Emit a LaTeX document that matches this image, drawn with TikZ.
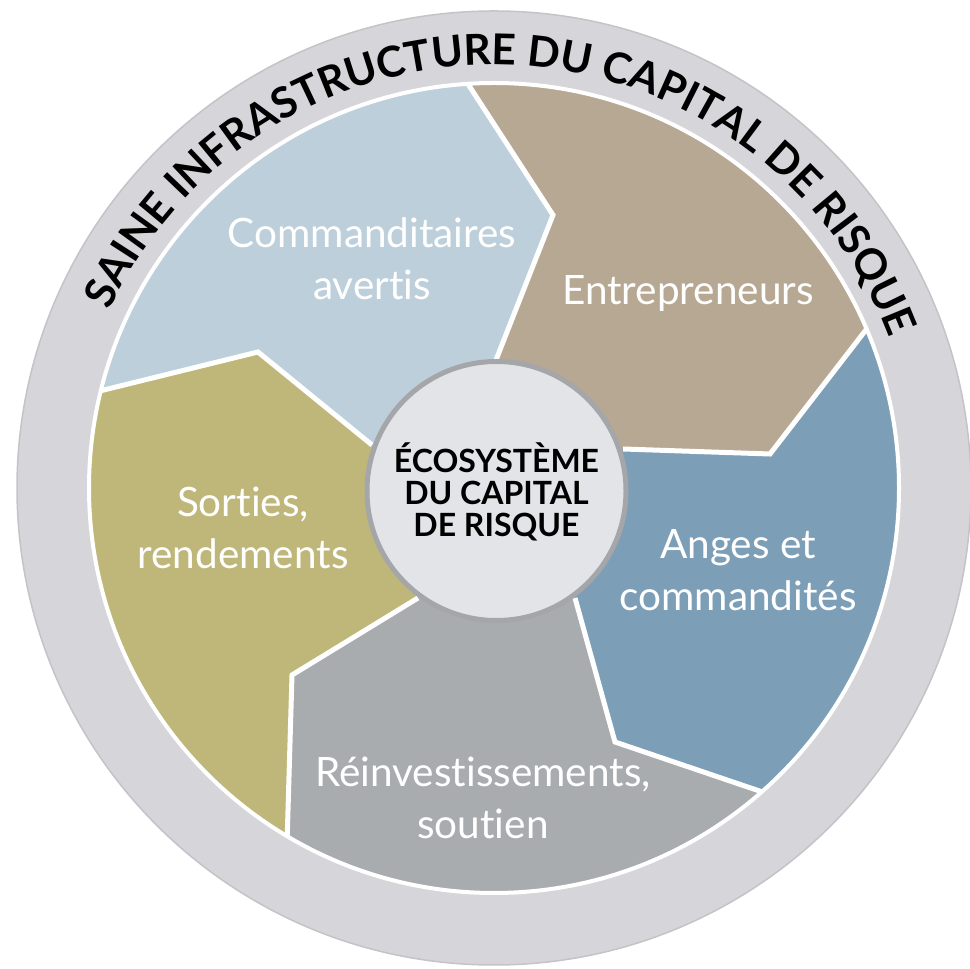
\documentclass[tikz,border=0pt]{standalone}
\usepackage{fontspec}
\setmainfont{Lato}[Ligatures=NoCommon]
\usetikzlibrary{decorations.text,calc}
\definecolor{ringgray}{HTML}{D6D6DA}
\definecolor{ringedge}{HTML}{C4C4C8}
\definecolor{cblue}{HTML}{BDCFDB}
\definecolor{ctan}{HTML}{B6A893}
\definecolor{csteel}{HTML}{7D9EB7}
\definecolor{cgray}{HTML}{A9ACAF}
\definecolor{colive}{HTML}{BFB77A}
\definecolor{cfill}{HTML}{E2E4E7}
\definecolor{cborder}{HTML}{A4A6A9}
\tikzset{
  sep/.style={draw=white, line width=5pt, line join=miter},
  seglabel/.style={text=white, align=center, inner sep=0pt, font=\fontsize{40.5}{52}\selectfont},
  ecolabel/.style={text=black, align=center, inner sep=0pt, font=\bfseries\fontsize{32}{32}\selectfont},
}
\begin{document}
\begin{tikzpicture}[x=1pt,y=1pt]
\useasboundingbox (0,0) rectangle (969,969);
\coordinate (C) at (494,481);
% outer ring
\fill[ringgray, draw=ringedge, line width=1.5pt] (C) circle (477pt);
% boundary points
\coordinate (b1i) at (496,609);
\coordinate (b1k) at (553,754);
\coordinate (b1o) at ($(C)+(93.7:405pt)$);
\coordinate (b2i) at (623,520);
\coordinate (b2k) at (770,515);
\coordinate (b2o) at ($(C)+(23.1:405pt)$);
\coordinate (b3i) at (575,371);
\coordinate (b3k) at (615,227);
\coordinate (b3o) at ($(C)+(-48.6:405pt)$);
\coordinate (b4i) at (418,371);
\coordinate (b4k) at (292,294);
\coordinate (b4o) at ($(C)+(-120.7:405pt)$);
\coordinate (b5i) at (372,524);
\coordinate (b5k) at (258,617);
\coordinate (b5o) at ($(C)+(166.1:405pt)$);
% segments
\fill[cblue] (C) -- (b5i) -- (b5k) -- (b5o) arc[start angle=166.1, end angle=93.7, radius=405pt] -- (b1k) -- (b1i) -- cycle;
\fill[ctan] (C) -- (b1i) -- (b1k) -- (b1o) arc[start angle=93.7, end angle=23.1, radius=405pt] -- (b2k) -- (b2i) -- cycle;
\fill[csteel] (C) -- (b2i) -- (b2k) -- (b2o) arc[start angle=23.1, end angle=-48.6, radius=405pt] -- (b3k) -- (b3i) -- cycle;
\fill[cgray] (C) -- (b3i) -- (b3k) -- (b3o) arc[start angle=-48.6, end angle=-120.7, radius=405pt] -- (b4k) -- (b4i) -- cycle;
\fill[colive] (C) -- (b4i) -- (b4k) -- (b4o) arc[start angle=-120.7, end angle=-193.9, radius=405pt] -- (b5k) -- (b5i) -- cycle;
% separators
\draw[sep] (b1i) -- (b1k) -- (b1o);
\draw[sep] (b2i) -- (b2k) -- (b2o);
\draw[sep] (b3i) -- (b3k) -- (b3o);
\draw[sep] (b4i) -- (b4k) -- (b4o);
\draw[sep] (b5i) -- (b5k) -- (b5o);
\draw[white, line width=4pt] (C) circle (405pt);
% centre
\node[circle, fill=cfill, draw=cborder, line width=5pt, minimum size=259pt, inner sep=0pt] (eco) at (496.5,478) {};
\node[ecolabel, anchor=base] (ecotext) at (496.5,432) {ÉCOSYSTÈME\\DU CAPITAL\\DE RISQUE};
% labels (anchor = baseline of last line)
\node[seglabel, anchor=base] (l1) at (372,669) {Commanditaires\\avertis};
\node[seglabel, anchor=base] (l2) at (688,664) {Entrepreneurs};
\node[seglabel, anchor=base] (l3) at (738,358) {Anges et\\commandités};
\node[seglabel, anchor=base] (l4) at (483,130) {Réinvestissements,\\soutien};
\node[seglabel, anchor=base] (l5) at (243,400) {Sorties,\\rendements};
% arc title
\path[decorate, decoration={text along path, text align=center, text color=black,
  text={|\bfseries\fontsize{42.5}{42.5}\selectfont|SAINE INFRASTRUCTURE DU CAPITAL DE RISQUE}}]
  ($(C)+(174:423pt)$) arc[start angle=174, end angle=2, radius=423pt];
\end{tikzpicture}
\end{document}
